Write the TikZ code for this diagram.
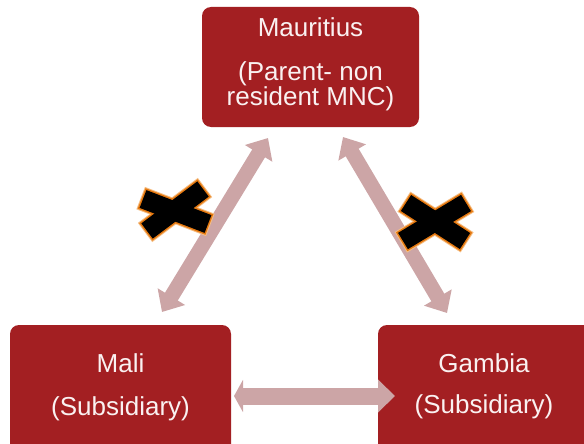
\documentclass[tikz,border=0pt]{standalone}
\usepackage{fontspec}
\setmainfont{Liberation Sans}
\usetikzlibrary{arrows.meta}
\definecolor{boxred}{HTML}{A31F22}
\definecolor{linkpink}{HTML}{CCA5A6}
\definecolor{labelwhite}{HTML}{FAF1F1}
\definecolor{glow}{HTML}{E5780F}
\definecolor{glowsoft}{HTML}{F5BE84}

\begin{document}
\begin{tikzpicture}[x=1pt,y=-1pt,
  entity/.style={fill=boxred, rounded corners=9pt, inner sep=0pt},
  caption/.style={text=labelwhite, inner sep=0pt, anchor=base,
    text height=18pt, text depth=4pt,
    font=\fontsize{26}{26}\selectfont},
  link/.style={linkpink, line width=15pt},
  bothtips/.style={arrows={Triangle[length=18pt,width=31pt]-Triangle[length=18pt,width=31pt]}},
  crosshalo/.style={glowsoft, line width=24pt, line cap=butt,
    shorten <=-2.5pt, shorten >=-2.5pt},
  crossedge/.style={glow, line width=22pt, line cap=butt,
    shorten <=-1.5pt, shorten >=-1.5pt},
  crossbar/.style={black, line width=19pt, line cap=butt}]

\useasboundingbox (0,0) rectangle (584,444);
\clip (0,0) rectangle (584,444);

% company boxes
\node[entity, minimum width=217pt, minimum height=120pt] (parent) at (310.5,67) {};
\node[entity, minimum width=221pt, minimum height=129pt] (mali) at (120.5,389.5) {};
\node[entity, minimum width=216pt, minimum height=129pt] (gambia) at (486,389.5) {};

% ends of the block arrows
\coordinate (pl) at (268,138);
\coordinate (ml) at (162,312);
\coordinate (pr) at (343,137);
\coordinate (gr) at (447,313);
\coordinate (mh) at (234,396);
\coordinate (gh) at (395,396);

% block arrows
\draw[link, bothtips] (ml) -- (pl);
\draw[link, bothtips] (pr) -- (gr);
\draw[link, line width=17pt,
  arrows={Triangle[length=9pt,width=32pt]-Triangle[length=17pt,width=32pt]}] (mh) -- (gh);

% crosses on the blocked links
\coordinate (la1) at (143,199);
\coordinate (la2) at (208,224);
\coordinate (lb1) at (147,231);
\coordinate (lb2) at (203,189);
\coordinate (ra1) at (406,203);
\coordinate (ra2) at (465,241);
\coordinate (rb1) at (403,241);
\coordinate (rb2) at (466,203);

\foreach \s in {crosshalo, crossedge}{
  \draw[\s] (la1) -- (la2);
  \draw[\s] (lb1) -- (lb2);
  \draw[\s] (ra1) -- (ra2);
  \draw[\s] (rb1) -- (rb2);
}
\draw[crossbar] (la1) -- (la2);
\draw[crossbar] (lb1) -- (lb2);
\draw[crossbar] (ra1) -- (ra2);
\draw[crossbar] (rb1) -- (rb2);

% labels
\node[caption] (pname) at (310.5,37) {Mauritius};
\node[caption] (prole1) at (310.5,81) {(Parent- non};
\node[caption] (prole2) at (310.5,106) {resident MNC)};
\node[caption] (mname) at (120.5,372) {Mali};
\node[caption] (mrole) at (120.5,415) {(Subsidiary)};
\node[caption] (gname) at (484,372) {Gambia};
\node[caption] (grole) at (484,413) {(Subsidiary)};
\end{tikzpicture}
\end{document}
